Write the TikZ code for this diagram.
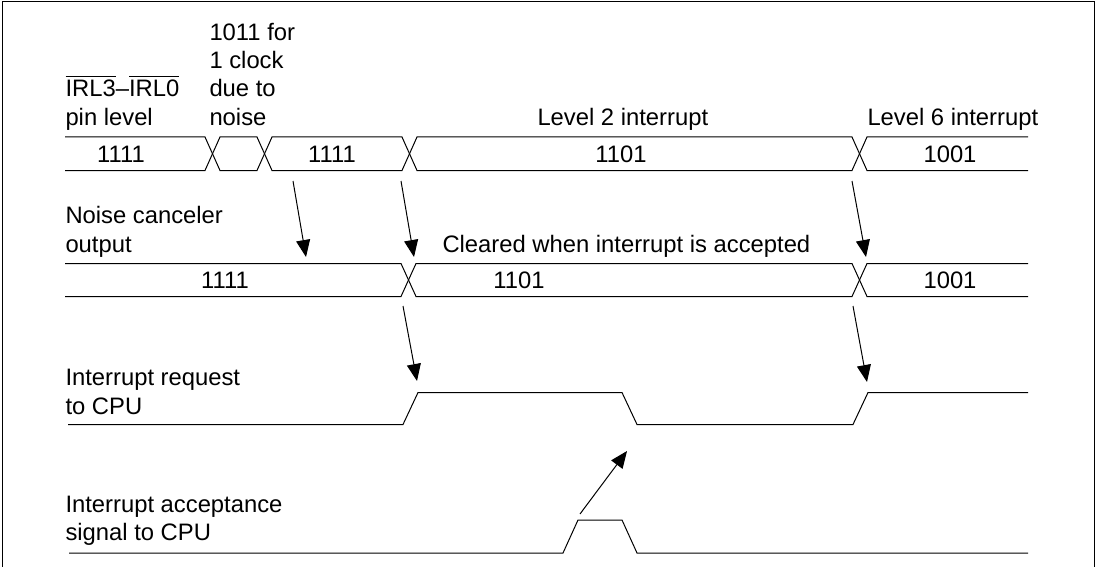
\documentclass[tikz,border=0pt]{standalone}
\usepackage{fontspec}
\setmainfont{Liberation Sans}
\usetikzlibrary{arrows.meta}
\newcommand\myovl[1]{\leavevmode\setbox0=\hbox{#1}\rlap{\raisebox{0.84em}{\rule{\wd0}{0.045em}}}\box0}
\begin{document}
\begin{tikzpicture}[x=1pt,y=-1pt,line width=1pt,
  lbl/.style={anchor=base west,inner sep=0pt,font=\fontsize{23.8}{28.3}\selectfont},
  val/.style={anchor=base,inner sep=0pt,font=\fontsize{23.8}{28.3}\selectfont},
  wave/.style={line width=1pt,line join=miter},
  arr/.style={line width=1pt,-{Triangle[length=17pt,width=14pt]}}]
\useasboundingbox (0,0) rectangle (1100,567);
% frame
\draw (2,567) -- (2,2) -- (1094,2) -- (1094,567);
% labels
\node[lbl] (t1a) at (209,41) {1011 for};
\node[lbl] (t1b) at (209,69) {1 clock};
\node[lbl] (t1c) at (209,97) {due to};
\node[lbl] (t1d) at (209,125) {noise};
\node[lbl] (p1a) at (65,97) {\myovl{IRL3}–\myovl{IRL0}};
\node[lbl] (p1b) at (65,125) {pin level};
\node[lbl] (l2) at (537,126) {Level 2 interrupt};
\node[lbl] (l6) at (867,126) {Level 6 interrupt};
\node[lbl] (n2a) at (65,223) {Noise canceler};
\node[lbl] (n2b) at (65,252) {output};
\node[lbl] (clr) at (442,252.5) {Cleared when interrupt is accepted};
\node[lbl] (r3a) at (65,385) {Interrupt request};
\node[lbl] (r3b) at (65,414) {to CPU};
\node[lbl] (a4a) at (65,512) {Interrupt acceptance};
\node[lbl] (a4b) at (65,540) {signal to CPU};
% values
\node[val] (v11) at (121,162.5) {1111};
\node[val] (v12) at (332,162.5) {1111};
\node[val] (v13) at (621,162.5) {1101};
\node[val] (v14) at (950,162.5) {1001};
\node[val] (v21) at (225,288.5) {1111};
\node[val] (v22) at (519,288.5) {1101};
\node[val] (v23) at (950,288.5) {1001};
% row 1 bus
\draw[wave] (65,137)--(205,137)--(220,170.5)--(257,170.5)--(272,137)--(402,137)--(417,170.5)--(852,170.5)--(867,137)--(1028,137);
\draw[wave] (65,170.5)--(205,170.5)--(220,137)--(257,137)--(272,170.5)--(402,170.5)--(417,137)--(852,137)--(867,170.5)--(1028,170.5);
% row 2 bus
\draw[wave] (65,263.5)--(401,263.5)--(416,296.5)--(852,296.5)--(867,263.5)--(1028,263.5);
\draw[wave] (65,296.5)--(401,296.5)--(416,263.5)--(852,263.5)--(867,296.5)--(1028,296.5);
% row 3
\draw[wave] (68,424.5)--(403,424.5)--(418,392.5)--(622,392.5)--(637,424.5)--(853,424.5)--(868,392.5)--(1028,392.5);
% row 4
\draw[wave] (69,553)--(563,553)--(578,520)--(622,520)--(637,553)--(1028,553);
% arrows
\coordinate (a1s) at (293,181); \coordinate (a1e) at (306,257);
\coordinate (a2s) at (401,181); \coordinate (a2e) at (414,257);
\coordinate (a3s) at (403,306); \coordinate (a3e) at (417,381);
\coordinate (a4s) at (852,181); \coordinate (a4e) at (866,257);
\coordinate (a5s) at (853,306); \coordinate (a5e) at (867,382);
\coordinate (a6s) at (580,514); \coordinate (a6e) at (627,451);
\draw[arr] (a1s) -- (a1e);
\draw[arr] (a2s) -- (a2e);
\draw[arr] (a3s) -- (a3e);
\draw[arr] (a4s) -- (a4e);
\draw[arr] (a5s) -- (a5e);
\draw[arr] (a6s) -- (a6e);
\end{tikzpicture}
\end{document}
